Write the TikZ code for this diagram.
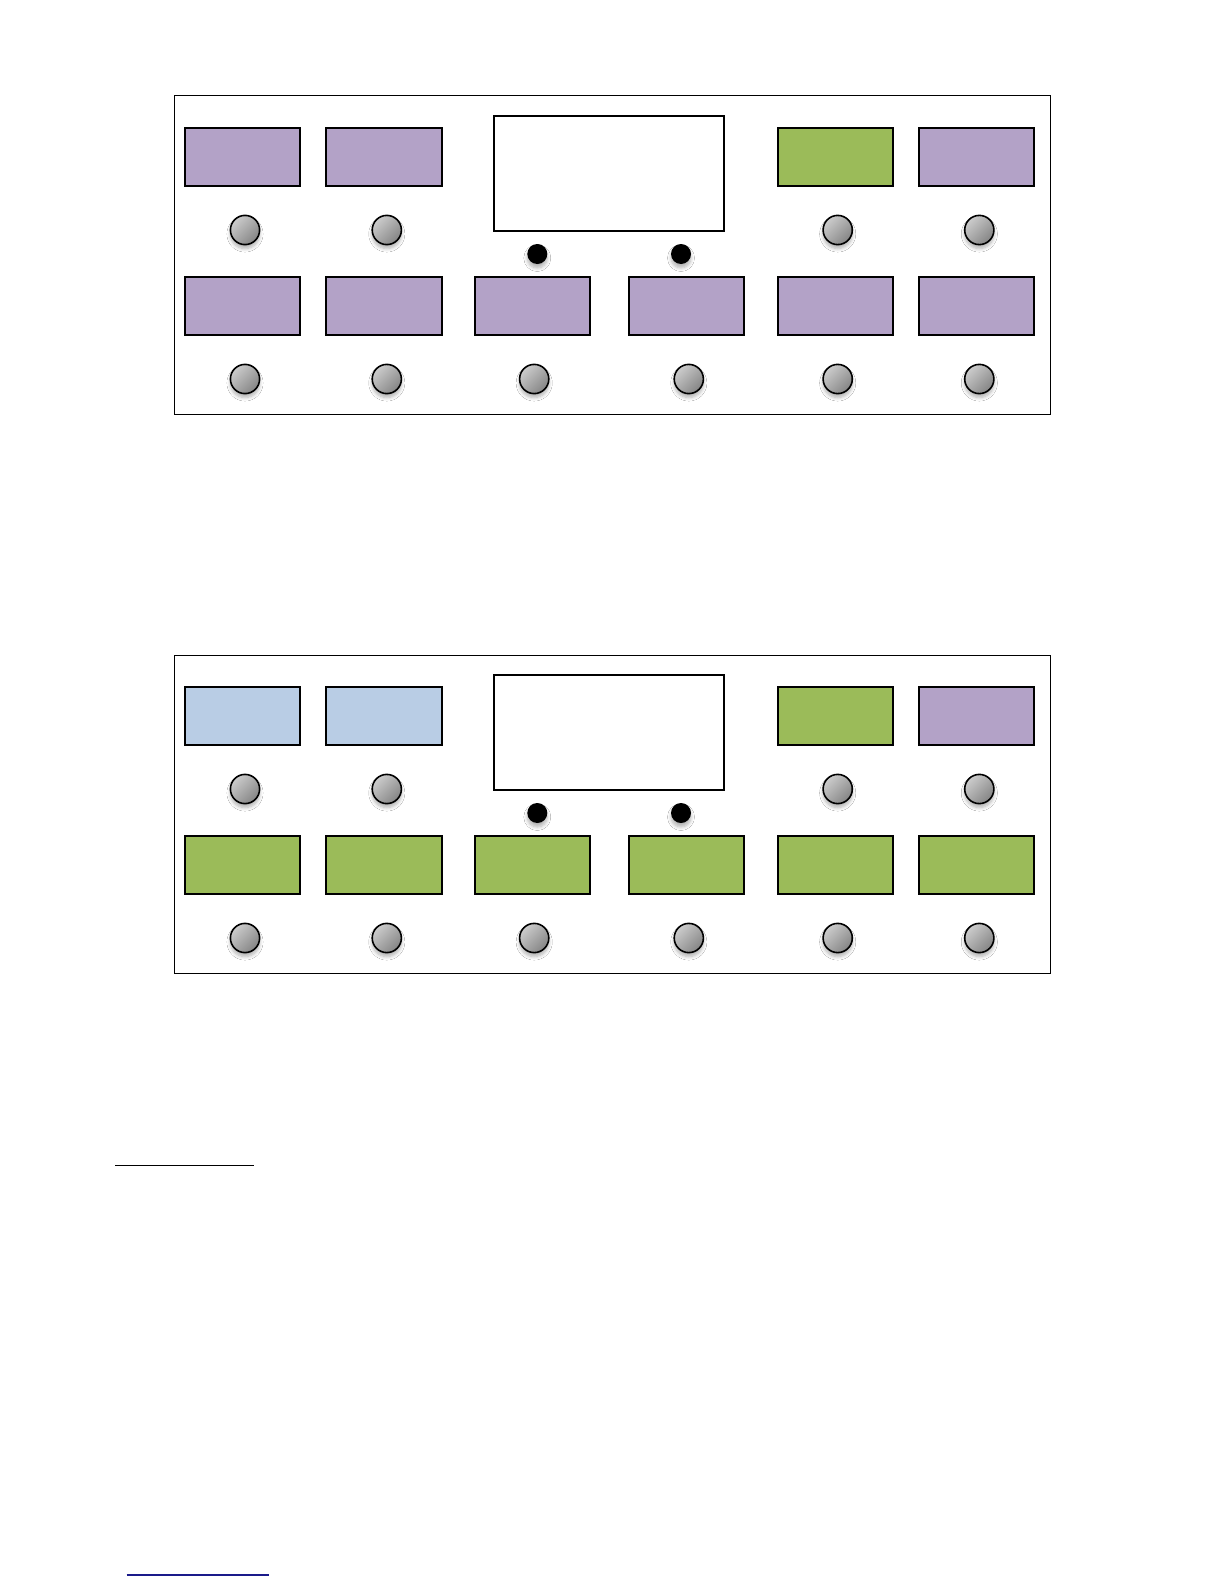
\documentclass[tikz,border=0pt]{standalone}
\usetikzlibrary{shadows.blur}
\definecolor{lpurple}{HTML}{B3A2C7}
\definecolor{lgreen}{HTML}{9BBB59}
\definecolor{lblue}{HTML}{B9CDE5}
\definecolor{navyline}{HTML}{1A1A8A}
\tikzset{
  panel/.style={draw=black, line width=0.5pt},
  pad/.style={draw=black, line width=1pt, minimum width=57.6pt, minimum height=29pt, inner sep=0pt},
  screen/.style={draw=black, fill=white, line width=1pt, minimum width=115.3pt, minimum height=57.6pt, inner sep=0pt},
  knob/.style={circle, draw=black, line width=0.8pt, minimum size=14.6pt, inner sep=0pt,
    top color=white!80!black, bottom color=white!52!black, shading angle=45,
    blur shadow={shadow xshift=0pt, shadow yshift=-2pt, shadow blur steps=6, shadow opacity=30}},
  dot/.style={circle, fill=black, minimum size=10pt, inner sep=0pt,
    blur shadow={shadow xshift=0pt, shadow yshift=-2pt, shadow blur steps=6, shadow opacity=30}},
}
\begin{document}
\begin{tikzpicture}[x=0.5pt, y=-0.5pt]
\useasboundingbox[fill=white] (0,0) rectangle (1224,1584);
% ---------- panel builder ----------
\foreach \oy/\pn/\ca/\cb/\cc/\cd/\rowb in {0/A/lpurple/lpurple/lgreen/lpurple/lpurple, 559/B/lblue/lblue/lgreen/lpurple/lgreen}{
  \begin{scope}[yshift=-\oy*0.5pt]
    \draw[panel] (174.3,96) coordinate (panel\pn-nw) rectangle (1050,414) coordinate (panel\pn-se);
    % top row pads
    \node[pad, fill=\ca] (\pn-t1) at (242.3,157) {};
    \node[pad, fill=\cb] (\pn-t2) at (384,157) {};
    \node[pad, fill=\cc] (\pn-t5) at (835.5,157) {};
    \node[pad, fill=\cd] (\pn-t6) at (976.5,157) {};
    % screen
    \node[screen] (\pn-scr) at (609,173.3) {};
    % top knobs
    \node[knob] (\pn-k1) at (245,230) {};
    \node[knob] (\pn-k2) at (386.8,230) {};
    \node[knob] (\pn-k5) at (837.7,230) {};
    \node[knob] (\pn-k6) at (979.3,230) {};
    % encoder dots
    \node[dot] (\pn-d1) at (537.3,254) {};
    \node[dot] (\pn-d2) at (681,254) {};
    % bottom row pads
    \node[pad, fill=\rowb] (\pn-b1) at (242.3,306) {};
    \node[pad, fill=\rowb] (\pn-b2) at (384,306) {};
    \node[pad, fill=\rowb] (\pn-b3) at (532.2,306) {};
    \node[pad, fill=\rowb] (\pn-b4) at (686.7,306) {};
    \node[pad, fill=\rowb] (\pn-b5) at (835.5,306) {};
    \node[pad, fill=\rowb] (\pn-b6) at (976.5,306) {};
    % bottom knobs
    \node[knob] (\pn-m1) at (245,379) {};
    \node[knob] (\pn-m2) at (386.8,379) {};
    \node[knob] (\pn-m3) at (534.2,379) {};
    \node[knob] (\pn-m4) at (688.8,379) {};
    \node[knob] (\pn-m5) at (837.7,379) {};
    \node[knob] (\pn-m6) at (979.3,379) {};
  \end{scope}
}
% footnote rules
\coordinate (r1a) at (115,1165.3);
\coordinate (r1b) at (254,1165.3);
\draw[line width=0.6pt] (r1a) -- (r1b);
\coordinate (r2a) at (126.7,1575);
\coordinate (r2b) at (269.3,1575);
\draw[navyline, line width=0.6pt] (r2a) -- (r2b);
\end{tikzpicture}
\end{document}
